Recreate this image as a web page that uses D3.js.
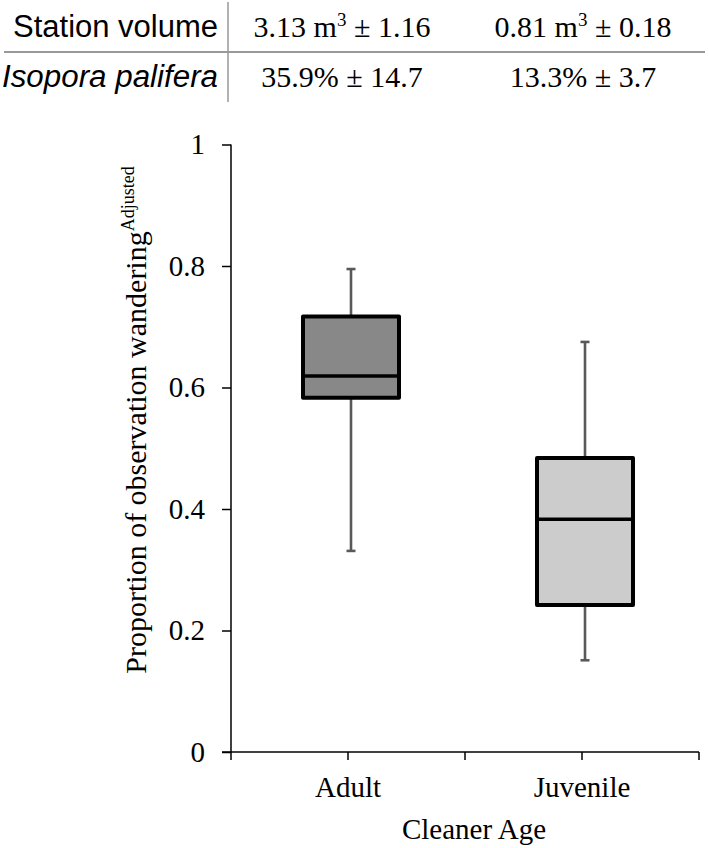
<!DOCTYPE html>
<html>
<head>
<meta charset="utf-8">
<script src="https://cdn.jsdelivr.net/npm/d3@7"></script>
<style>
  html, body { margin: 0; padding: 0; background: #fff; }
  svg { display: block; }
</style>
</head>
<body>
<svg id="chart" width="709" height="848"></svg>
<script>
// ---- Data ----
const categories   = ["Adult", "Juvenile"];
const whiskerLow   = [0.331, 0.151];
const q1           = [0.583, 0.242];
const median       = [0.619, 0.383];
const q3           = [0.717, 0.484];
const whiskerHigh  = [0.795, 0.675];
const boxFills     = ["#888888", "#cccccc"];
const yTicks       = [0, 0.2, 0.4, 0.6, 0.8, 1];
const yTitle       = "Proportion of observation wandering";
const yTitleSup    = "Adjusted";
const xTitle       = "Cleaner Age";
const tableRowLabels = ["Station volume", "Isopora palifera"];
const tableAdult     = ["3.13 m^3 ± 1.16", "35.9% ± 14.7"];
const tableJuvenile  = ["0.81 m^3 ± 0.18", "13.3% ± 3.7"];

// ---- Layout ----
const svg = d3.select("#chart");
const serif = "'Liberation Serif', 'Times New Roman', serif";
const sans  = "'Liberation Sans', Arial, sans-serif";

const x = d3.scaleBand().domain(categories).range([231, 699]).paddingInner(0).paddingOuter(0);
const y = d3.scaleLinear().domain([0, 1]).range([752, 144.5]);

// ---- Table ----
const rowBaselines = [37, 87];
const colCenters = [342, 583];
const labelWidths = [205, 216];
svg.append("line").attr("x1", 4).attr("x2", 705).attr("y1", 52).attr("y2", 52)
  .attr("stroke", "#999").attr("stroke-width", 2);
svg.append("line").attr("x1", 228).attr("x2", 228).attr("y1", 2).attr("y2", 102)
  .attr("stroke", "#999").attr("stroke-width", 1.5);

tableRowLabels.forEach((lab, i) => {
  svg.append("text")
    .attr("x", 218).attr("y", rowBaselines[i])
    .attr("text-anchor", "end")
    .attr("font-family", sans)
    .attr("font-size", 31)
    .attr("font-style", i === 1 ? "italic" : "normal")
    .attr("textLength", labelWidths[i])
    .attr("lengthAdjust", "spacingAndGlyphs")
    .attr("fill", "#000")
    .text(lab);
});

function addValue(str, cx, by) {
  const t = svg.append("text").attr("x", cx).attr("y", by)
    .attr("text-anchor", "middle").attr("font-family", serif)
    .attr("font-size", 30).attr("fill", "#000");
  const parts = str.split("^");
  if (parts.length === 1) { t.text(str); return; }
  t.append("tspan").text(parts[0]);
  t.append("tspan").attr("font-size", 19).attr("dy", -11).text(parts[1][0]);
  t.append("tspan").attr("dy", 11).text(parts[1].slice(1));
}
tableAdult.forEach((v, i) => addValue(v, colCenters[0], rowBaselines[i]));
tableJuvenile.forEach((v, i) => addValue(v, colCenters[1], rowBaselines[i]));

// ---- Axes ----
const yAxis = d3.axisLeft(y).tickValues(yTicks).tickFormat(d3.format("~g"))
  .tickSize(9).tickPadding(17);
const gy = svg.append("g").attr("transform", "translate(231,0)").call(yAxis);
gy.select(".domain").attr("d", `M0,${y(1)}V${y(0)}`).attr("stroke", "#000").attr("stroke-width", 1.5);
gy.selectAll(".tick line").attr("stroke", "#000").attr("stroke-width", 1.5);
gy.selectAll(".tick text").attr("font-family", serif).attr("font-size", 29).attr("fill", "#000");

// x axis: line + ticks at band boundaries and band centers
const gx = svg.append("g");
gx.append("line").attr("x1", x.range()[0] - 9).attr("x2", x.range()[1])
  .attr("y1", y(0)).attr("y2", y(0)).attr("stroke", "#000").attr("stroke-width", 1.5);
const tickXs = [];
categories.forEach(c => { tickXs.push(x(c)); tickXs.push(x(c) + x.bandwidth() / 2); });
tickXs.push(x.range()[1]);
gx.selectAll("line.tk").data(tickXs).enter().append("line")
  .attr("class", "tk")
  .attr("x1", d => d).attr("x2", d => d)
  .attr("y1", y(0)).attr("y2", y(0) + 8)
  .attr("stroke", "#000").attr("stroke-width", 1.5);
gx.selectAll("text.cat").data(categories).enter().append("text")
  .attr("class", "cat")
  .attr("x", d => x(d) + x.bandwidth() / 2)
  .attr("y", 797)
  .attr("text-anchor", "middle")
  .attr("font-family", serif).attr("font-size", 29).attr("fill", "#000")
  .text(d => d);

// axis titles
svg.append("text").attr("x", 474).attr("y", 839).attr("text-anchor", "middle")
  .attr("font-family", serif).attr("font-size", 29).attr("fill", "#000").text(xTitle);

const yt = svg.append("text")
  .attr("transform", "translate(146,420) rotate(-90)")
  .attr("text-anchor", "middle")
  .attr("font-family", serif).attr("font-size", 30).attr("fill", "#000");
yt.append("tspan").text(yTitle);
yt.append("tspan").attr("font-size", 18).attr("dy", -12).text(yTitleSup);

// ---- Boxes ----
const boxW = 96;
const boxOffset = 3;
const boxes = svg.append("g").selectAll("g.box").data(categories).enter().append("g").attr("class", "box");
const cxOf = (d) => x(d) + x.bandwidth() / 2 + boxOffset;

// whiskers
boxes.append("line")
  .attr("x1", cxOf).attr("x2", cxOf)
  .attr("y1", (d, i) => y(whiskerHigh[i])).attr("y2", (d, i) => y(q3[i]))
  .attr("stroke", "#595959").attr("stroke-width", 2.6);
boxes.append("line")
  .attr("x1", cxOf).attr("x2", cxOf)
  .attr("y1", (d, i) => y(q1[i])).attr("y2", (d, i) => y(whiskerLow[i]))
  .attr("stroke", "#595959").attr("stroke-width", 2.6);
// caps
[whiskerHigh, whiskerLow].forEach(arr => {
  boxes.append("line")
    .attr("x1", d => cxOf(d) - 4.5).attr("x2", d => cxOf(d) + 4.5)
    .attr("y1", (d, i) => y(arr[i])).attr("y2", (d, i) => y(arr[i]))
    .attr("stroke", "#595959").attr("stroke-width", 2.6);
});
// box
boxes.append("rect")
  .attr("x", d => cxOf(d) - boxW / 2)
  .attr("width", boxW)
  .attr("y", (d, i) => y(q3[i]))
  .attr("height", (d, i) => y(q1[i]) - y(q3[i]))
  .attr("fill", (d, i) => boxFills[i])
  .attr("stroke", "#000").attr("stroke-width", 4)
  .attr("stroke-linejoin", "round");
// median
boxes.append("line")
  .attr("x1", d => cxOf(d) - boxW / 2).attr("x2", d => cxOf(d) + boxW / 2)
  .attr("y1", (d, i) => y(median[i])).attr("y2", (d, i) => y(median[i]))
  .attr("stroke", "#000").attr("stroke-width", 3.5);
</script>
</body>
</html>
